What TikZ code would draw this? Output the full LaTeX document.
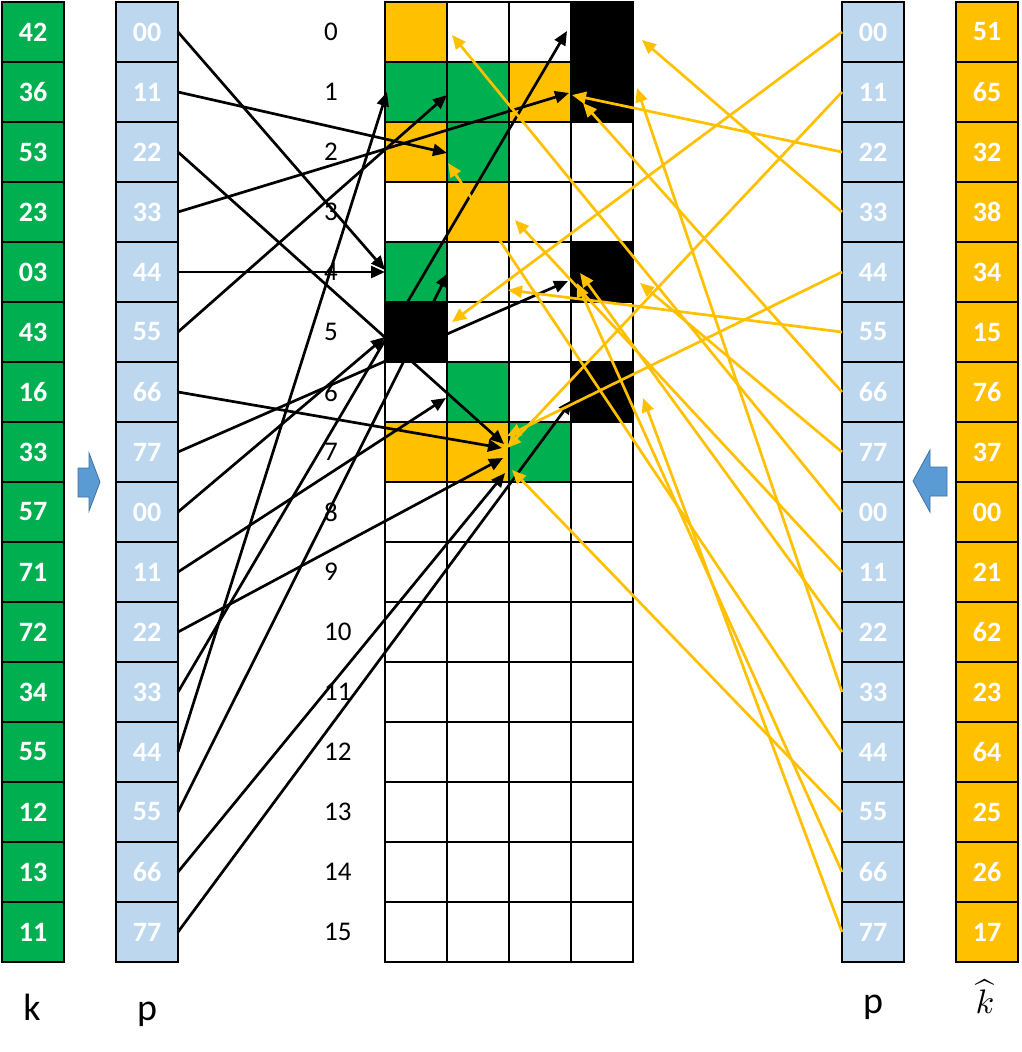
\documentclass[tikz,border=0pt]{standalone}
\usepackage{fontspec}
\setmainfont{Carlito}
\usetikzlibrary{arrows.meta}

\definecolor{kgreen}{HTML}{00B050}
\definecolor{kgold}{HTML}{FFC000}
\definecolor{pblue}{HTML}{BDD7EE}
\definecolor{ablue}{HTML}{5B9BD5}
\definecolor{abluedark}{HTML}{41719C}

\tikzset{
  slot/.style={draw=black, line width=1.6pt, minimum width=62pt, minimum height=60pt, inner sep=0pt, outer sep=0pt},
  keycell/.style={slot, text=white, font=\fontsize{28}{30}\selectfont\bfseries},
  rowlab/.style={anchor=west, inner sep=0pt, font=\fontsize{27}{30}\selectfont},
  collab/.style={anchor=base, inner sep=0pt, font=\fontsize{38}{40}\selectfont},
  blkarr/.style={-{Triangle[length=14pt,width=12pt]}, line width=2.7pt, black},
  goldarr/.style={-{Triangle[length=14pt,width=12pt]}, line width=2.7pt, kgold},
  shiftarr/.style={fill=ablue, draw=abluedark, line width=0.8pt}
}

\begin{document}
\begin{tikzpicture}[x=1pt,y=-1pt]
\useasboundingbox (0,0) rectangle (1022,1052);

% key columns
\foreach \v [count=\i from 0] in {42,36,53,23,03,43,16,33,57,71,72,34,55,12,13,11}
  \node[keycell, fill=kgreen] (k-\i) at (33,32+60*\i) {\v};
\foreach \v [count=\i from 0] in {51,65,32,38,34,15,76,37,00,21,62,23,64,25,26,17}
  \node[keycell, fill=kgold] (kh-\i) at (987,32+60*\i) {\v};
\foreach \v [count=\i from 0] in {00,11,22,33,44,55,66,77,00,11,22,33,44,55,66,77} {
  \node[keycell, fill=pblue] (pl-\i) at (147,32+60*\i) {\v};
  \node[keycell, fill=pblue] (pr-\i) at (873,32+60*\i) {\v};
}

% table
\foreach \r/\row in {0/{kgold,white,white,black}, 1/{kgreen,kgreen,kgold,black},
    2/{kgold,kgreen,white,white}, 3/{white,kgold,white,white},
    4/{kgreen,white,white,black}, 5/{black,white,white,white},
    6/{white,kgreen,white,black}, 7/{kgold,kgold,kgreen,white}}
  \foreach \f [count=\c from 0] in \row
    \node[slot, fill=\f] (g-\r-\c) at (416+62*\c,32+60*\r) {};
\foreach \r in {8,...,15}
  \foreach \c in {0,...,3}
    \node[slot, fill=white] (g-\r-\c) at (416+62*\c,32+60*\r) {};
\foreach \i in {0,...,15}
  \node[rowlab] (r-\i) at (324,32+60*\i) {\i};

% labels
\node[collab] (lk) at (32,1020) {k};
\node[collab] (lp) at (147,1020) {p};
\node[collab] (rp) at (873,1013) {p};
\node[anchor=base, inner sep=0pt] (rk) at (985,1013) {\scalebox{3.4}{$\widehat{k}$}};

% shift marks
\draw[shiftarr] (78,468) -- (89,468) -- (89,453) -- (100,482) -- (89,511) -- (89,497) -- (78,497) -- cycle;
\draw[shiftarr] (947,467) -- (930,467) -- (930,450) -- (913,481) -- (930,512) -- (930,496) -- (947,496) -- cycle;

% left arrows
\foreach \i/\x/\y in {0/385/270, 1/447/153, 2/504/444, 3/569/93, 4/385/272, 5/447/95,
    6/502/448, 7/568/281, 8/385/337, 9/446/398, 10/503/458, 11/567/31,
    12/387/92, 13/448/273, 14/505/473, 15/572/400} {
  \coordinate (bt-\i) at (\x,\y);
  \draw[blkarr] (pl-\i.east) -- (bt-\i);
}

% right arrows
\foreach \i/\x/\y in {0/452/322, 1/507/448, 2/572/95, 3/642/40, 4/507/436, 5/508/290,
    6/583/103, 7/640/283, 8/452/35, 9/515/220, 10/580/273, 11/637/88,
    12/448/163, 13/512/470, 14/577/283, 15/643/398} {
  \coordinate (gt-\i) at (\x,\y);
  \draw[goldarr] (pr-\i.west) -- (gt-\i);
}
\end{tikzpicture}
\end{document}
